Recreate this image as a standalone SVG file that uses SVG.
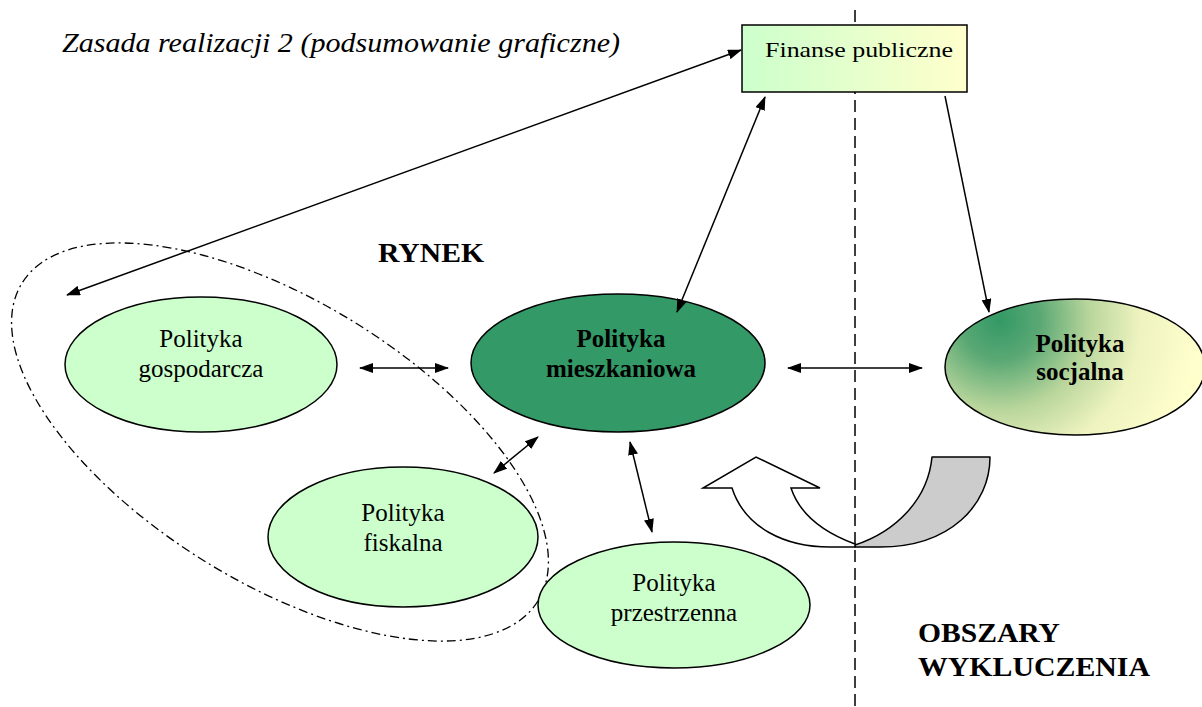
<svg xmlns="http://www.w3.org/2000/svg" width="1202" height="707" viewBox="0 0 1202 707">
<style>
.node{stroke:#000;stroke-width:1.5}
.lg{fill:#ccffcc}
.t{font-family:"Liberation Serif","Times New Roman",serif;fill:#000}
.m{text-anchor:middle}
.lbl{font-size:25px}
.b{font-weight:bold}
.con line{stroke:#000;stroke-width:1.5;fill:none}
</style>
<defs>
<marker id="ah" viewBox="0 0 14 10" refX="13" refY="5" markerWidth="14" markerHeight="10" markerUnits="userSpaceOnUse" orient="auto-start-reverse">
<path d="M0,0 L14,5 L0,10 z" fill="#000"/>
</marker>
<linearGradient id="boxg" x1="0" y1="0" x2="1" y2="0">
<stop offset="0" stop-color="#ccffcc"/>
<stop offset="1" stop-color="#ffffcc"/>
</linearGradient>
<radialGradient id="socg" gradientUnits="userSpaceOnUse" cx="1000" cy="320" r="200">
<stop offset="0" stop-color="#339966"/>
<stop offset="0.2" stop-color="#5aa874"/>
<stop offset="0.45" stop-color="#b9d69c"/>
<stop offset="0.7" stop-color="#eef3c0"/>
<stop offset="1" stop-color="#ffffcc"/>
</radialGradient>
</defs>
<rect width="1202" height="707" fill="#fff"/>

<text class="t" x="62" y="52" font-size="28" font-style="italic" textLength="558" lengthAdjust="spacingAndGlyphs">Zasada realizacji 2 (podsumowanie graficzne)</text>

<ellipse id="rynek-area" cx="280" cy="442" rx="303" ry="141" transform="rotate(31.6 280 442)" fill="none" stroke="#000" stroke-width="1.3" stroke-dasharray="9 4 2 4"/>

<text class="t m b" x="431" y="262" font-size="28" textLength="106" lengthAdjust="spacingAndGlyphs">RYNEK</text>

<g id="curved-arrow">
<path d="M855,545 C895,532 928,500 932,457 L990,457 C990,505 950,547 880,547 L855,547 Z" fill="#cccccc" stroke="#000" stroke-width="1.5" stroke-linejoin="round"/>
<path d="M732,488 C745,528 785,547 830,547 L855,547 L855,544 C825,533 800,515 791,488 L820,488 L756,457 L703,488 Z" fill="#fff" stroke="#000" stroke-width="1.5" stroke-linejoin="miter"/>
</g>

<line x1="855" y1="10" x2="855" y2="707" stroke="#000" stroke-width="1.5" stroke-dasharray="12 6"/>

<g id="finanse">
<rect x="742" y="25" width="225" height="67" fill="url(#boxg)" stroke="#000" stroke-width="1.5"/>
<text class="t m" x="859" y="57" font-size="22" textLength="188" lengthAdjust="spacingAndGlyphs">Finanse publiczne</text>
</g>

<g id="gospodarcza">
<ellipse class="node lg" cx="201" cy="364.5" rx="136" ry="67.5"/>
<text class="t m lbl" x="201" y="347">Polityka</text>
<text class="t m lbl" x="201" y="377">gospodarcza</text>
</g>

<g id="mieszkaniowa">
<ellipse class="node" fill="#339966" cx="618" cy="363" rx="147" ry="69"/>
<text class="t m lbl b" x="621" y="347">Polityka</text>
<text class="t m lbl b" x="621" y="377">mieszkaniowa</text>
</g>

<g id="socjalna">
<ellipse class="node" fill="url(#socg)" cx="1075" cy="367" rx="130" ry="68"/>
<text class="t m lbl b" x="1080" y="352">Polityka</text>
<text class="t m lbl b" x="1080" y="380">socjalna</text>
</g>

<g id="fiskalna">
<ellipse class="node lg" cx="403" cy="537" rx="135" ry="70"/>
<text class="t m lbl" x="403" y="521">Polityka</text>
<text class="t m lbl" x="403" y="551">fiskalna</text>
</g>

<g id="przestrzenna">
<ellipse class="node lg" cx="674" cy="605" rx="136" ry="63"/>
<text class="t m lbl" x="674" y="591">Polityka</text>
<text class="t m lbl" x="674" y="621">przestrzenna</text>
</g>

<g id="obszary">
<text class="t b" x="918" y="642" font-size="28" textLength="142" lengthAdjust="spacingAndGlyphs">OBSZARY</text>
<text class="t b" x="918" y="676" font-size="28" textLength="232" lengthAdjust="spacingAndGlyphs">WYKLUCZENIA</text>
</g>

<g class="con" id="connectors">
<line x1="741" y1="50" x2="67" y2="295" marker-start="url(#ah)" marker-end="url(#ah)"/>
<line x1="765" y1="97" x2="677" y2="312" marker-start="url(#ah)" marker-end="url(#ah)"/>
<line x1="945" y1="96" x2="989" y2="312" marker-end="url(#ah)"/>
<line x1="360" y1="368" x2="448" y2="368" marker-start="url(#ah)" marker-end="url(#ah)"/>
<line x1="788" y1="368" x2="922" y2="368" marker-start="url(#ah)" marker-end="url(#ah)"/>
<line x1="538" y1="437" x2="494" y2="473" marker-start="url(#ah)" marker-end="url(#ah)"/>
<line x1="630" y1="442" x2="652" y2="532" marker-start="url(#ah)" marker-end="url(#ah)"/>
</g>
</svg>
